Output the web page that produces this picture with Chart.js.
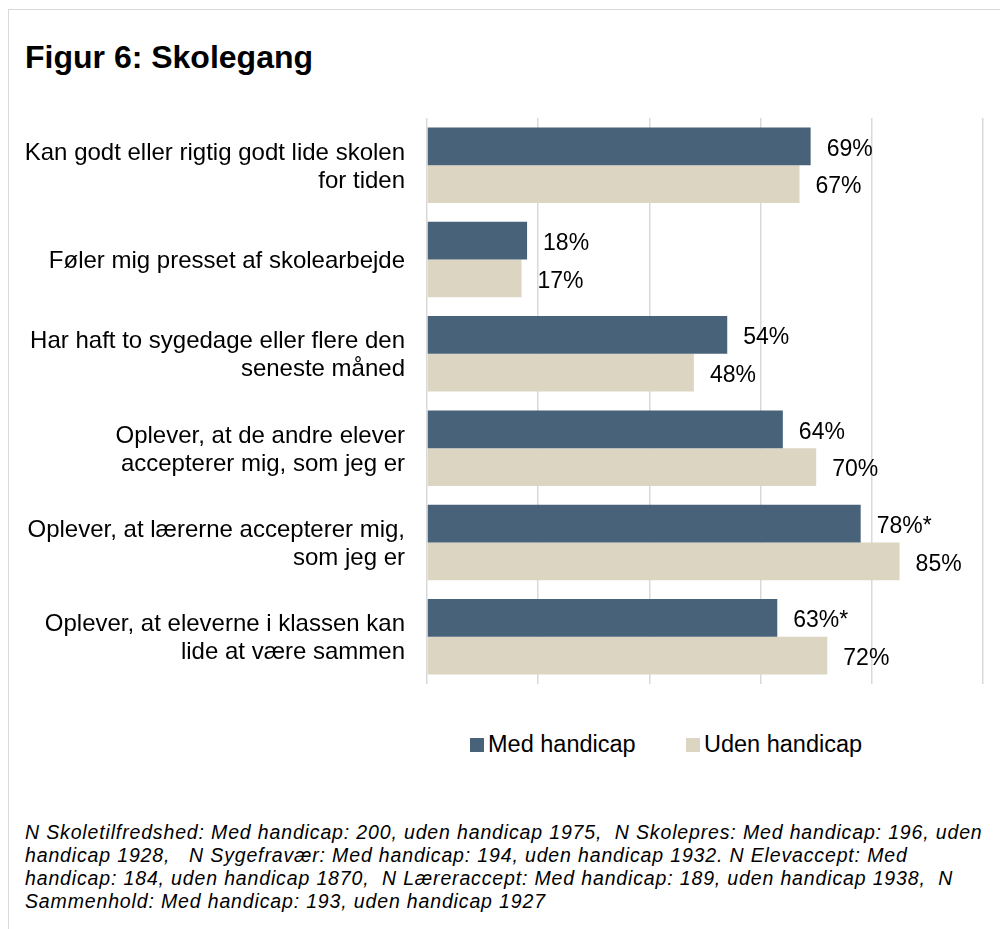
<!DOCTYPE html>
<html>
<head>
<meta charset="utf-8">
<script src="https://cdn.jsdelivr.net/npm/chart.js@4"></script>
<style>
  body { margin: 0; background: #fff; font-family: "Liberation Sans", Arial, sans-serif; }
  #frame { position: absolute; left: 8px; top: 9px; width: 1100px; height: 1000px; border: 1px solid #d9d9d9; }
  #wrap { position: absolute; left: 0; top: 0; width: 1000px; height: 700px; }
  #titel { position: absolute; left: 25px; top: 39px; font-weight: bold; font-size: 32px; line-height: 36px; color: #000; }
  .leg { position: absolute; top: 731px; font-size: 23.5px; line-height: 26px; color: #000; }
  .leg span { display: inline-block; width: 14px; height: 14px; margin-right: 4px; vertical-align: 0px; }
  #note { position: absolute; left: 25px; top: 821px; font-style: italic; font-size: 19.5px; letter-spacing: 0.85px; line-height: 23px; color: #000; white-space: pre; }
</style>
</head>
<body>
<div id="frame"></div>
<div id="titel">Figur 6: Skolegang</div>
<div id="wrap"><canvas id="grafico"></canvas></div>
<div class="leg" style="left:470px"><span style="background:#48627a"></span>Med handicap</div>
<div class="leg" style="left:686px"><span style="background:#dbd5c2"></span>Uden handicap</div>
<div id="note">N Skoletilfredshed: Med handicap: 200, uden handicap 1975,  N Skolepres: Med handicap: 196, uden
handicap 1928,   N Sygefravær: Med handicap: 194, uden handicap 1932. N Elevaccept: Med
handicap: 184, uden handicap 1870,  N Læreraccept: Med handicap: 189, uden handicap 1938,  N
Sammenhold: Med handicap: 193, uden handicap 1927</div>
<script>
// kategorier og værdier
const kategorier = [
  ["Kan godt eller rigtig godt lide skolen", "for tiden"],
  "Føler mig presset af skolearbejde",
  ["Har haft to sygedage eller flere den", "seneste måned"],
  ["Oplever, at de andre elever", "accepterer mig, som jeg er"],
  ["Oplever, at lærerne accepterer mig,", "som jeg er"],
  ["Oplever, at eleverne i klassen kan", "lide at være sammen"],
];
const medHandicap = [69, 18, 54, 64, 78, 63];
const udenHandicap = [67, 17, 48, 70, 85, 72];
const medMarker = ["", "", "", "", "*", "*"];
const udenMarker = ["", "", "", "", "", ""];
const xTicks = [0, 20, 40, 60, 80, 100];

// skriver procenttallet ved enden af hver søjle
const vaerdiLabels = {
  id: "vaerdiLabels",
  afterDatasetsDraw(chart) {
    const ctx = chart.ctx;
    ctx.save();
    ctx.font = "23px 'Liberation Sans', Arial";
    ctx.fillStyle = "#000";
    ctx.textBaseline = "middle";
    chart.data.datasets.forEach((ds, i) => {
      const marker = i === 0 ? medMarker : udenMarker;
      chart.getDatasetMeta(i).data.forEach((bar, j) => {
        ctx.fillText(ds.data[j] + "%" + marker[j], bar.x + 16, bar.y + 3);
      });
    });
    ctx.restore();
  },
};

const ctx = document.getElementById("grafico");
new Chart(ctx, {
  type: "bar",
  data: {
    labels: kategorier,
    datasets: [
      { label: "Med handicap", data: medHandicap, backgroundColor: "#48627a", categoryPercentage: 0.8, barPercentage: 1.0 },
      { label: "Uden handicap", data: udenHandicap, backgroundColor: "#dbd5c2", categoryPercentage: 0.8, barPercentage: 1.0 },
    ],
  },
  options: {
    indexAxis: "y",
    responsive: true,
    maintainAspectRatio: false,
    animation: false,
    layout: { padding: { top: 118, bottom: 16, right: 17, left: 0 } },
    plugins: { legend: { display: false }, tooltip: { enabled: false } },
    scales: {
      x: {
        min: 0,
        max: 100,
        afterBuildTicks: (scale) => { scale.ticks = xTicks.map((v) => ({ value: v })); },
        afterFit: (scale) => { scale.height = 0; scale.paddingLeft = 0; scale.paddingRight = 0; },
        ticks: { display: false },
        grid: { color: "#d9d9d9", lineWidth: 1.5, drawTicks: false },
        border: { display: false },
      },
      y: {
        afterFit: (scale) => { scale.width = 427; scale.paddingTop = 0; scale.paddingBottom = 0; },
        ticks: { color: "#000", padding: 22, labelOffset: 2, font: { family: "'Liberation Sans', Arial", size: 24, lineHeight: 1.17 } },
        grid: { display: false, drawTicks: false },
        border: { display: false },
      },
    },
  },
  plugins: [vaerdiLabels],
});
</script>
</body>
</html>
